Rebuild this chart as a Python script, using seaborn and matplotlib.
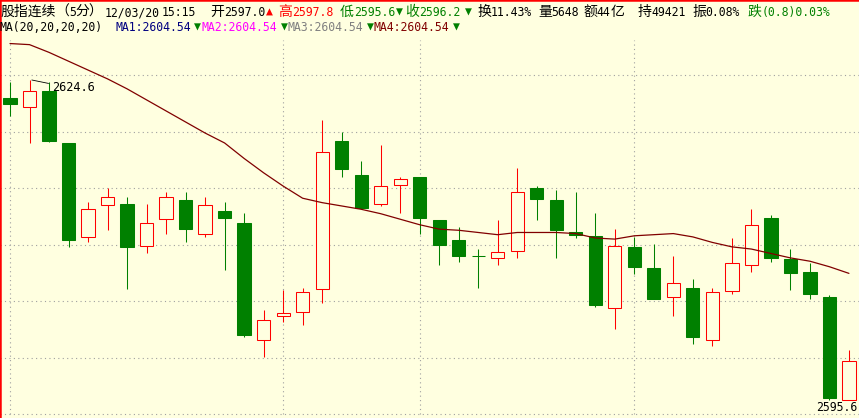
"""
5-minute candlestick chart of the index futures contract, with MA20
"""

import numpy as np
import pandas as pd
import matplotlib

matplotlib.use("Agg")
import matplotlib.pyplot as plt
import seaborn as sns

# ---- data (44 bars, 5 min each) ----
opens = [2623.0, 2622.2, 2623.6, 2618.9, 2610.4, 2613.3, 2613.4, 2609.6, 2612.0, 2613.7,
         2610.7, 2612.7, 2611.7, 2601.1, 2603.2, 2603.6, 2605.7, 2619.1, 2616.0, 2613.4,
         2615.1, 2615.8, 2611.9, 2610.1, 2608.7, 2608.5, 2609.1, 2614.8, 2613.7, 2610.8,
         2610.5, 2604.0, 2609.5, 2607.6, 2605.0, 2605.8, 2601.1, 2605.5, 2607.9, 2612.1,
         2608.4, 2607.2, 2605.0, 2595.6]
highs = [2624.4, 2624.6, 2624.4, 2618.9, 2613.6, 2614.8, 2614.0, 2613.4, 2614.5, 2614.5,
         2614.0, 2613.6, 2612.6, 2603.8, 2605.6, 2605.8, 2621.0, 2619.9, 2617.3, 2618.7,
         2615.8, 2615.8, 2611.9, 2611.3, 2609.3, 2611.9, 2616.6, 2615.0, 2614.6, 2614.5,
         2612.6, 2611.1, 2610.4, 2609.8, 2608.7, 2606.6, 2605.8, 2610.3, 2612.9, 2612.4,
         2609.3, 2608.0, 2605.1, 2600.2]
lows = [2621.3, 2618.9, 2619.0, 2609.5, 2609.9, 2611.0, 2605.7, 2608.9, 2610.7, 2609.9,
        2610.4, 2607.4, 2601.3, 2599.5, 2602.7, 2602.4, 2604.4, 2615.8, 2612.9, 2613.2,
        2612.6, 2610.7, 2607.9, 2608.1, 2605.8, 2607.9, 2608.5, 2611.9, 2608.5, 2610.3,
        2604.1, 2602.1, 2607.0, 2604.8, 2603.2, 2600.7, 2600.5, 2605.2, 2607.2, 2608.1,
        2605.6, 2604.8, 2595.6, 2595.6]
closes = [2622.4, 2623.6, 2619.1, 2610.1, 2612.9, 2614.0, 2609.5, 2611.7, 2614.0, 2611.1,
          2613.3, 2612.1, 2601.5, 2602.9, 2603.5, 2605.4, 2618.1, 2616.5, 2613.0, 2615.0,
          2615.6, 2612.1, 2609.7, 2608.7, 2608.7, 2609.0, 2614.5, 2613.8, 2611.0, 2610.6,
          2604.2, 2609.6, 2607.7, 2604.8, 2606.2, 2601.3, 2605.4, 2608.0, 2611.5, 2608.5,
          2607.1, 2605.2, 2595.8, 2599.2]
ma20 = [2627.9, 2627.8, 2627.1, 2626.3, 2625.5, 2624.7, 2623.8, 2622.8, 2621.8, 2620.8,
        2619.8, 2618.9, 2617.5, 2616.2, 2615.0, 2613.9, 2613.5, 2613.2, 2612.9, 2612.5,
        2612.0, 2611.5, 2611.1, 2611.0, 2610.8, 2610.6, 2610.8, 2610.8, 2610.8, 2610.7,
        2610.3, 2610.2, 2610.5, 2610.6, 2610.7, 2610.4, 2609.9, 2609.5, 2609.3, 2608.9,
        2608.5, 2608.2, 2607.7, 2607.1]
session_breaks = [0, 14, 21, 32]  # bars where a new session starts

header_line1 = [
    (0, "股指连续", "black"), (55, "（5分）", "black"), (105, "12/03/20", "black"),
    (162, "15:15", "black"), (210, "开2597.0", "black"), (266, "▲", "red"),
    (278, "高2597.8", "red"), (340, "低2595.6", "green"), (396, "▼", "green"),
    (405, "收2596.2", "green"), (465, "▼", "green"), (477, "换11.43%", "black"),
    (538, "量5648", "black"), (583, "额44亿", "black"), (638, "持49421", "black"),
    (692, "振0.08%", "black"), (748, "跌(0.8)0.03%", "green"),
]
header_line2 = [
    (0, "MA(20,20,20,20)", "black"),
    (115, "MA1:2604.54", "#000080"), (194, "▼", "green"),
    (202, "MA2:2604.54", "#FF00FF"), (281, "▼", "green"),
    (288, "MA3:2604.54", "#808080"), (367, "▼", "green"),
    (373, "MA4:2604.54", "#800000"), (453, "▼", "green"),
]

W, H = 859, 418
BG = "#FFFFE0"
UP = "#FF0000"
DOWN = "#008000"
GRID = "#A0A0A0"
Y_HI, Y_LO = 2631.84, 2594.01  # prices at top and bottom pixel rows

sns.set_theme(style="white")
plt.rcParams["font.family"] = ["DejaVu Sans Mono", "Noto Sans CJK SC"]

df = pd.DataFrame({"open": opens, "high": highs, "low": lows, "close": closes, "ma": ma20})
df["bar"] = np.arange(len(df))
up = df["close"] > df["open"]
colors = np.where(up, UP, DOWN)
body_lo = df[["open", "close"]].min(axis=1)
body_hi = df[["open", "close"]].max(axis=1)

fig = plt.figure(figsize=(W / 100, H / 100), dpi=100)
fig.patch.set_facecolor(BG)
ax = fig.add_axes([0, 0, 1, 1])
ax.set_facecolor(BG)

step = 19.51  # pixels between bars
ax.set_xlim(-10 / step, (W - 10) / step)
ax.set_ylim(Y_LO, Y_HI)


def px_to_price(yp):
    return Y_HI - yp * (Y_HI - Y_LO) / H


# dotted grid
for yp in np.linspace(75, 414, 7):
    ax.axhline(px_to_price(yp), color=GRID, lw=0.8, ls=(0, (1, 3)), zorder=0.5)
for b in session_breaks:
    ax.axvline(b, ymin=(H - 414) / H, ymax=1 - 40 / H, color=GRID, lw=0.8,
               ls=(0, (1, 3)), zorder=0.5)

# candles: wicks stop at the body so the hollow red bodies stay empty
ax.vlines(df["bar"], df["low"], body_lo, colors=colors, lw=0.75, zorder=2)
ax.vlines(df["bar"], body_hi, df["high"], colors=colors, lw=0.75, zorder=2)
ax.bar(df["bar"], body_hi - body_lo, bottom=body_lo, width=0.68,
       color=np.where(up, BG, DOWN), edgecolor=colors, linewidth=0.75, zorder=2.5)

sns.lineplot(data=df, x="bar", y="ma", color="#800000", lw=0.9, ax=ax, zorder=3)

# max / min markers
i_hi = int(df["high"].idxmax())
ax.annotate(f"{df['high'].max():.1f}", xy=(i_hi + 0.12, df["high"].max()),
            xytext=(20, -8), textcoords="offset pixels", ha="left", va="center",
            fontsize=8.6, color="black",
            arrowprops=dict(arrowstyle="-", color="black", lw=0.6,
                            shrinkA=0, shrinkB=0, relpos=(0, 0.8)))
i_lo = int(df["low"].idxmin())
ax.annotate(f"{df['low'].min():.1f}", xy=(i_lo, df["low"].min()),
            xytext=(-13, -7), textcoords="offset pixels", ha="left", va="center",
            fontsize=8.3, color="black")

ax.set_xticks([])
ax.set_yticks([])
ax.set_xlabel("")
ax.set_ylabel("")
for side in ["right", "bottom"]:
    ax.spines[side].set_visible(False)
for side in ["left", "top"]:
    ax.spines[side].set_color("red")
    ax.spines[side].set_linewidth(1.8)


def put(x, baseline, text, color):
    """Write text on a SimSun-like grid: full-width glyphs 13.75px, half-width 6.9px"""
    runs = []
    for ch in text:
        kind = "cjk" if (ord(ch) > 0x2E80) else "half"
        if runs and runs[-1][0] == kind:
            runs[-1][1] += ch
        else:
            runs.append([kind, ch])
    for kind, run in runs:
        if kind == "cjk":
            fig.text(x / W, 1 - baseline / H, run, color=color, fontsize=10,
                     family=["Noto Sans CJK SC"], va="baseline", ha="left")
            x += 13.75 * len(run)
        else:
            fig.text(x / W, 1 - baseline / H, run, color=color, fontsize=8.3,
                     family=["DejaVu Sans Mono", "Noto Sans CJK SC"],
                     va="baseline", ha="left")
            x += 6.9 * len(run)


for x, s, c in header_line1:
    put(x, 16, s, c)
for x, s, c in header_line2:
    put(x, 31, s, c)

fig.savefig("out.png", dpi=100, facecolor=BG)
